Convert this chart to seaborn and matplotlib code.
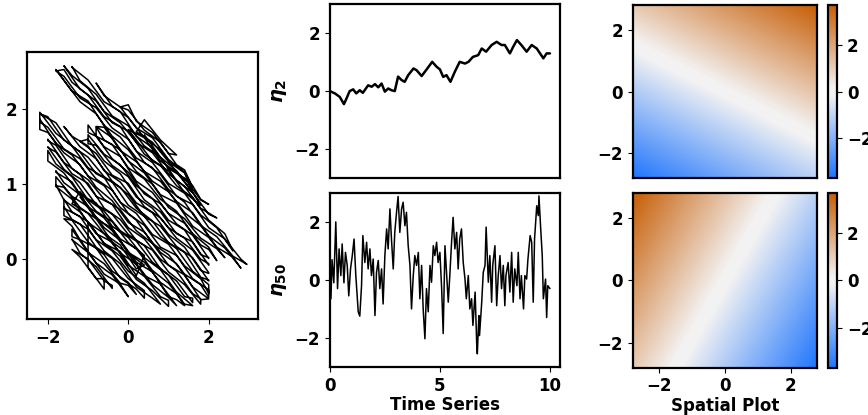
import numpy as np
import pandas as pd
import seaborn as sns
import matplotlib.pyplot as plt

# --- trajectory (left panel): hand-read strokes, (x, y), one row per sweep ---
traj_xy = [
    (-1.2, 0.83), (-0.8, 0.54), (-0.4, 0.41), (0.0, 0.08), (0.4, -0.08),
    (0.2, -0.13), (-0.2, 0.19), (-0.6, 0.34), (-1.0, 0.61), (-1.4, 0.74),
    (-1.2, 0.90), (-0.8, 0.64), (-0.4, 0.50), (0.0, 0.22), (0.4, 0.05),
    (0.2, -0.22), (-0.2, 0.10), (-0.6, 0.21), (-1.0, 0.50),
    (-1.0, -0.11), (-0.6, -0.40),
    (-0.6, -0.26), (-0.8, -0.26), (-1.2, 0.03),
    (-1.4, 0.13), (-1.0, 0.00), (-0.6, -0.29), (-0.4, -0.35),
    (-0.4, -0.39), (-0.8, -0.10), (-1.2, 0.08), (-1.4, 0.27),
    (-1.4, 0.26), (-1.0, 0.09), (-0.6, -0.20), (-0.2, -0.33),
    (0.0, -0.50), (-0.4, -0.21), (-0.8, -0.05), (-1.2, 0.26), (-1.4, 0.30),
    (-1.4, 0.40), (-1.0, 0.09), (-0.6, -0.06), (-0.2, -0.32), (0.0, -0.35),
    (0.2, -0.47), (0.0, -0.31), (-0.4, -0.16), (-0.8, 0.15), (-1.2, 0.26), (-1.4, 0.44),
    (-1.6, 0.54), (-1.4, 0.52), (-1.0, 0.23), (-0.6, 0.06), (-0.2, -0.25), (0.2, -0.40), (0.4, -0.52),
    (0.4, -0.42), (0.0, -0.26), (-0.4, 0.01), (-0.8, 0.16), (-1.2, 0.47), (-1.6, 0.58),
    (-1.6, 0.70), (-1.4, 0.53), (-1.0, 0.40), (-0.6, 0.11), (-0.2, -0.06), (0.2, -0.37), (0.6, -0.52),
    (0.8, -0.60), (0.4, -0.32), (0.0, -0.16), (-0.4, 0.11), (-0.8, 0.26), (-1.2, 0.57), (-1.6, 0.68),
    (-1.6, 0.80), (-1.4, 0.63), (-1.0, 0.50), (-0.6, 0.21), (-0.2, 0.04), (0.2, -0.27), (0.6, -0.42), (1.0, -0.63),
    (1.0, -0.55), (0.8, -0.50), (0.4, -0.23), (0.0, -0.08), (-0.4, 0.23), (-0.8, 0.34), (-1.2, 0.63), (-1.6, 0.79), (-1.8, 0.99),
    (-1.8, 0.97), (-1.4, 0.80), (-1.0, 0.49), (-0.6, 0.34), (-0.2, 0.08), (0.2, -0.06), (0.6, -0.34), (1.0, -0.51),
    (1.2, -0.62), (0.8, -0.33), (0.4, -0.22), (0.0, 0.07), (-0.4, 0.23), (-0.8, 0.54), (-1.2, 0.69), (-1.6, 0.96), (-1.8, 0.98),
    (-1.8, 1.10), (-1.4, 0.84), (-1.0, 0.70), (-0.6, 0.42), (-0.2, 0.25), (0.2, -0.04), (0.6, -0.17), (1.0, -0.50), (1.2, -0.54),
    (1.4, -0.62), (1.2, -0.46), (0.8, -0.31), (0.4, -0.04), (0.0, 0.09), (-0.4, 0.38), (-0.8, 0.56), (-1.2, 0.86), (-1.6, 1.02), (-1.8, 1.18),
    (-1.8, 1.16), (-1.4, 1.03), (-1.0, 0.70), (-0.6, 0.55), (-0.2, 0.27), (0.2, 0.14), (0.6, -0.15), (1.0, -0.32), (1.4, -0.60),
    (1.6, -0.62), (1.2, -0.44), (0.8, -0.14), (0.4, 0.02), (0.0, 0.29), (-0.4, 0.44), (-0.8, 0.75), (-1.2, 0.86), (-1.6, 1.15), (-2.0, 1.31),
    (-2.0, 1.45), (-1.8, 1.27), (-1.4, 1.10), (-1.0, 0.79), (-0.6, 0.64), (-0.2, 0.38), (0.2, 0.24), (0.6, -0.04), (1.0, -0.21), (1.4, -0.50), (1.6, -0.52),
    (1.6, -0.58), (1.2, -0.29), (0.8, -0.13), (0.4, 0.18), (0.0, 0.33), (-0.4, 0.60), (-0.8, 0.73), (-1.2, 1.02), (-1.6, 1.20), (-2.0, 1.50),
    (-2.0, 1.49), (-1.8, 1.43), (-1.4, 1.14), (-1.0, 1.01), (-0.6, 0.68), (-0.2, 0.53), (0.2, 0.25), (0.6, 0.12), (1.0, -0.17), (1.4, -0.34), (1.8, -0.60),
    (1.8, -0.53), (1.6, -0.46), (1.2, -0.16), (0.8, 0.00), (0.4, 0.27), (0.0, 0.42), (-0.4, 0.73), (-0.8, 0.84), (-1.2, 1.13), (-1.6, 1.29), (-2.0, 1.60),
    (-2.0, 1.58), (-1.8, 1.52), (-1.4, 1.21), (-1.0, 1.06), (-0.6, 0.80), (-0.2, 0.66), (0.2, 0.38), (0.6, 0.21), (1.0, -0.08), (1.4, -0.21), (1.8, -0.54),
    (2.0, -0.53), (1.6, -0.37), (1.2, -0.06), (0.8, 0.09), (0.4, 0.36), (0.0, 0.49), (-0.4, 0.78), (-0.8, 0.96), (-1.2, 1.26), (-1.6, 1.42), (-2.0, 1.69), (-2.2, 1.73),
    (-2.2, 1.87), (-1.8, 1.54), (-1.4, 1.39), (-1.0, 1.11), (-0.6, 0.98), (-0.2, 0.69), (0.2, 0.52), (0.6, 0.21), (1.0, 0.06), (1.4, -0.20), (1.8, -0.34), (2.0, -0.51),
    (2.0, -0.41), (1.6, -0.26), (1.2, 0.05), (0.8, 0.16), (0.4, 0.45), (0.0, 0.61), (-0.4, 0.92), (-0.8, 1.07), (-1.2, 1.34), (-1.6, 1.47), (-2.0, 1.76), (-2.2, 1.83),
    (-2.2, 1.96), (-1.8, 1.68), (-1.4, 1.51), (-1.0, 1.22), (-0.6, 1.09), (-0.2, 0.76), (0.2, 0.61), (0.6, 0.33), (1.0, 0.20), (1.4, -0.09), (1.8, -0.26), (2.0, -0.46),
    (2.0, -0.34), (1.6, -0.16), (1.2, 0.14), (0.8, 0.30), (0.4, 0.57), (0.0, 0.72), (-0.4, 1.03), (-0.8, 1.14), (-1.2, 1.43), (-1.6, 1.59), (-2.0, 1.90), (-2.2, 1.94),
    (-1.8, 1.82), (-1.4, 1.51), (-1.0, 1.36), (-0.6, 1.10), (-0.2, 0.96), (0.2, 0.68), (0.6, 0.51), (1.0, 0.22), (1.4, 0.09), (1.8, -0.24), (2.0, -0.28),
    (2.0, -0.29), (1.6, 0.02), (1.2, 0.17), (0.8, 0.44), (0.4, 0.57), (0.0, 0.86), (-0.4, 1.04), (-0.8, 1.34), (-1.2, 1.50), (-1.6, 1.77),
    (-1.4, 1.64), (-1.0, 1.51), (-0.6, 1.18), (-0.2, 1.03), (0.2, 0.75), (0.6, 0.62), (1.0, 0.33), (1.4, 0.16), (1.8, -0.15), (2.0, -0.19),
    (2.0, -0.18), (1.6, 0.12), (1.2, 0.28), (0.8, 0.55), (0.4, 0.70), (0.0, 1.01), (-0.4, 1.12), (-0.8, 1.41), (-1.2, 1.57),
    (-1.0, 1.60), (-0.6, 1.31), (-0.2, 1.14), (0.2, 0.83), (0.6, 0.68), (1.0, 0.42), (1.4, 0.28), (1.8, 0.00), (2.0, -0.06),
    (2.0, -0.08), (1.6, 0.23), (1.2, 0.34), (0.8, 0.63), (0.4, 0.79), (0.0, 1.10), (-0.4, 1.25), (-0.8, 1.52), (-1.0, 1.54),
    (-1.0, 1.66), (-0.6, 1.40), (-0.2, 1.26), (0.2, 0.98), (0.6, 0.81), (1.0, 0.52), (1.4, 0.39), (1.8, 0.06), (2.0, 0.02),
    (2.0, 0.01), (1.6, 0.32), (1.2, 0.47), (0.8, 0.74), (0.4, 0.87), (0.0, 1.16), (-0.4, 1.34), (-0.8, 1.64), (-1.0, 1.69),
    (-1.0, 1.79), (-0.6, 1.50), (-0.2, 1.37), (0.2, 1.04), (0.6, 0.89), (1.0, 0.61), (1.4, 0.48), (1.8, 0.19), (2.0, 0.13),
    (2.2, -0.02), (2.0, 0.16), (1.6, 0.34), (1.2, 0.64), (0.8, 0.80), (0.4, 1.07), (0.0, 1.22), (-0.4, 1.53), (-0.8, 1.64),
    (-0.8, 1.76), (-0.6, 1.59), (-0.2, 1.46), (0.2, 1.17), (0.6, 1.00), (1.0, 0.69), (1.4, 0.54), (1.8, 0.28), (2.2, 0.14),
    (2.4, 0.02), (2.0, 0.29), (1.6, 0.44), (1.2, 0.75), (0.8, 0.86), (0.4, 1.15), (0.0, 1.31), (-0.4, 1.62), (-0.8, 1.77),
    (-0.6, 1.76), (-0.2, 1.45), (0.2, 1.30), (0.6, 1.04), (1.0, 0.90), (1.4, 0.62), (1.8, 0.45), (2.2, 0.16), (2.6, 0.03),
    (2.8, -0.12), (2.4, 0.15), (2.0, 0.31), (1.6, 0.62), (1.2, 0.77), (0.8, 1.04), (0.4, 1.17), (0.0, 1.46), (-0.4, 1.64), (-0.8, 1.94), (-1.2, 2.10),
    (-1.8, 2.53), (-1.4, 2.24), (-1.0, 2.11), (-0.6, 1.78), (-0.2, 1.63), (0.2, 1.35), (0.6, 1.22), (1.0, 0.93), (1.4, 0.76), (1.8, 0.45), (2.2, 0.30), (2.6, 0.04), (2.95, -0.07),
    (2.8, 0.00), (2.4, 0.27), (2.0, 0.42), (1.6, 0.73), (1.2, 0.84), (0.8, 1.13), (0.4, 1.29), (0.0, 1.60), (-0.4, 1.75), (-0.8, 2.02), (-1.2, 2.15), (-1.6, 2.44), (-1.8, 2.51),
    (-1.6, 2.53), (-1.4, 2.36), (-1.0, 2.19), (-0.6, 1.90), (-0.2, 1.77), (0.2, 1.44), (0.6, 1.29), (1.0, 1.01), (1.4, 0.88), (1.8, 0.59), (2.2, 0.42), (2.6, 0.11),
    (2.4, 0.34), (2.0, 0.52), (1.6, 0.82), (1.2, 0.98), (0.8, 1.25), (0.4, 1.40), (0.0, 1.71), (-0.4, 1.82), (-0.8, 2.11), (-1.2, 2.27), (-1.6, 2.58),
    (-1.4, 2.45), (-1.0, 2.28), (-0.6, 1.97), (-0.2, 1.82), (0.2, 1.56), (0.6, 1.42), (1.0, 1.14), (1.4, 0.97), (1.8, 0.68), (2.2, 0.55),
    (2.0, 0.60), (1.6, 0.89), (1.2, 1.05), (0.8, 1.36), (0.4, 1.51), (0.0, 1.78), (-0.4, 1.91), (-0.8, 2.20), (-1.2, 2.38), (-1.4, 2.57),
    (-1.4, 2.56), (-1.0, 2.39), (-0.6, 2.10), (-0.2, 1.97), (0.2, 1.64), (0.6, 1.49), (1.0, 1.21), (1.4, 1.08), (1.8, 0.79), (2.0, 0.73),
    (1.8, 0.80), (1.6, 0.98), (1.2, 1.16), (0.8, 1.46), (0.4, 1.62), (0.0, 1.89), (-0.4, 2.04), (-0.8, 2.35),
    (-0.6, 2.18), (-0.2, 2.03), (0.2, 1.75), (0.6, 1.62), (1.0, 1.33), (1.4, 1.16), (1.6, 0.96),
    (1.4, 1.19), (1.2, 1.26), (0.8, 1.56), (0.4, 1.72), (0.0, 1.99), (-0.2, 2.03),
    (0.0, 2.06), (0.2, 1.84), (0.6, 1.69), (1.0, 1.41), (1.2, 1.39),
    (0.8, 1.59), (0.4, 1.86),
    (0.2, 1.70), (0.6, 1.56), (1.0, 1.30), (1.4, 1.15),
    (1.6, 0.89), (1.2, 1.16), (0.8, 1.31), (0.4, 1.62), (0.0, 1.73),
    (0.2, 1.59), (0.6, 1.31), (1.0, 1.18), (1.4, 0.89), (1.8, 0.72),
    (1.6, 0.89), (1.2, 1.18), (0.8, 1.36), (0.4, 1.66),
]

# --- time series (middle panels) ---
t_eta2 = [0.0, 0.23, 0.45, 0.64, 0.76, 0.9, 1.06, 1.2, 1.36, 1.5, 1.74, 1.9, 2.05, 2.2, 2.35, 2.5, 2.65,
          2.8, 2.95, 3.1, 3.26, 3.4, 3.56, 3.8, 3.94, 4.17, 4.4, 4.65, 4.85, 5.0, 5.15, 5.3, 5.48, 5.68,
          5.9, 6.14, 6.3, 6.5, 6.74, 6.9, 7.1, 7.35, 7.58, 7.8, 7.95, 8.18, 8.33, 8.5, 8.7, 8.94, 9.17,
          9.4, 9.55, 9.7, 9.85, 10.0]
eta2 = [0.0, -0.08, -0.2, -0.45, -0.25, 0.0, 0.06, -0.08, 0.03, -0.06, 0.2, 0.15, 0.24, 0.13, 0.26,
        -0.02, 0.09, 0.03, 0.0, 0.5, 0.38, 0.32, 0.55, 0.78, 0.72, 0.52, 0.75, 1.01, 0.84, 0.75, 0.49,
        0.55, 0.32, 0.67, 1.01, 0.95, 1.01, 1.18, 1.24, 1.47, 1.36, 1.59, 1.7, 1.59, 1.59, 1.3, 1.53,
        1.76, 1.59, 1.36, 1.59, 1.47, 1.3, 1.13, 1.3, 1.3]

t_eta50 = [0.0, 0.05, 0.1, 0.18, 0.27, 0.35, 0.42, 0.5, 0.56, 0.64, 0.71, 0.79, 0.86, 0.94, 1.02, 1.1,
           1.18, 1.29, 1.36, 1.44, 1.5, 1.59, 1.67, 1.74, 1.82, 1.89, 1.97, 2.05, 2.12, 2.2, 2.27, 2.35,
           2.42, 2.5, 2.58, 2.65, 2.73, 2.8, 2.88, 2.95, 3.03, 3.1, 3.18, 3.26, 3.33, 3.41, 3.48, 3.56,
           3.64, 3.71, 3.79, 3.86, 3.94, 4.02, 4.09, 4.17, 4.24, 4.32, 4.39, 4.47, 4.55, 4.62, 4.7,
           4.77, 4.85, 4.92, 5.0, 5.08, 5.15, 5.23, 5.3, 5.38, 5.45, 5.53, 5.6, 5.68, 5.76, 5.83, 5.9,
           5.98, 6.06, 6.14, 6.2, 6.29, 6.36, 6.44, 6.5, 6.6, 6.67, 6.7, 6.77, 6.8, 6.9, 6.97, 7.05,
           7.1, 7.2, 7.27, 7.35, 7.4, 7.5, 7.58, 7.65, 7.73, 7.8, 7.88, 7.95, 8.0, 8.1, 8.18, 8.26,
           8.33, 8.4, 8.5, 8.56, 8.64, 8.7, 8.8, 8.86, 8.94, 9.0, 9.1, 9.17, 9.24, 9.3, 9.4, 9.47,
           9.5, 9.58, 9.65, 9.7, 9.8, 9.85, 9.9, 10.0]
eta50 = [0.5, -0.65, 0.7, -0.1, 2.0, -0.3, 1.07, 0.15, 1.24, -0.1, 0.95, 0.5, -0.55, 0.38, 0.84, 1.41,
         0.15, -1.1, -1.25, -0.2, 1.53, 0.6, 1.3, 0.38, 1.07, 0.15, 0.72, -1.23, 0.26, 0.67, -0.3, 0.38,
         -0.83, 0.84, 1.76, 1.07, 2.45, 1.41, 0.38, 1.64, 2.33, 2.88, 1.64, 2.45, 2.68, 1.87, 2.33, 1.18,
         0.5, -1.0, 0.15, 0.84, 0.5, 0.95, -0.65, 0.5, -1.0, -2.03, -0.3, -1.1, 0.5, -0.08, 1.18,
         0.84, 1.3, 0.6, 0.95, -0.3, -1.85, 1.18, 0.26, -0.77, 0.15, 1.3, 2.16, 1.07, 1.64, 0.38, 1.41,
         1.76, 0.6, 0.03, -0.65, 0.15, -1.0, -0.65, -1.57, -0.42, -2.15, -2.55, -1.23, -1.92, -0.77, 0.26, 0.5,
         1.82, -0.08, 0.84, -0.77, 0.5, 1.18, -0.89, 0.15, 0.84, -0.3, 0.5, -0.89, 0.15, 0.6, -0.42, 0.95,
         -0.77, 0.38, -0.2, 0.95, -0.65, 0.15, -1.0, 0.15, 0.03, 0.72, 1.53, 1.3, -0.77, 1.41, 2.56, 2.22,
         2.9, 1.76, 0.84, -0.65, 0.03, -1.3, -0.2, -0.3]

# --- spatial fields (right panels): corner values, rows = y (low, high), cols = x (low, high) ---
corner_xy = [-2.8, 2.8]
field_top = [[-3.7, -1.1], [1.1, 3.7]]
field_bottom = [[1.1, -3.7], [3.7, -1.1]]

sns.set_style("ticks")
plt.rcParams['font.family'] = ['DejaVu Sans']
plt.rcParams.update({
    'font.weight': 'bold', 'font.size': 12, 'axes.labelweight': 'bold',
    'axes.linewidth': 1.6, 'axes.edgecolor': 'black', 'axes.labelcolor': 'black',
    'xtick.color': 'black', 'ytick.color': 'black', 'text.color': 'black',
    'mathtext.fontset': 'dejavusans',
})

cmap = sns.diverging_palette(258, 28, s=99, l=52, sep=12, as_cmap=True)

fig = plt.figure(figsize=(8.68, 4.15), dpi=100)
ax_traj = fig.add_axes([0.031, 0.231, 0.266, 0.643])
ax_t1 = fig.add_axes([0.380, 0.571, 0.265, 0.419])
ax_t2 = fig.add_axes([0.380, 0.116, 0.265, 0.419])
ax_h1 = fig.add_axes([0.729, 0.571, 0.212, 0.417])
ax_h2 = fig.add_axes([0.729, 0.114, 0.212, 0.421])
cax1 = fig.add_axes([0.954, 0.571, 0.0104, 0.417])
cax2 = fig.add_axes([0.954, 0.114, 0.0104, 0.421])

traj = pd.DataFrame(traj_xy, columns=['x', 'y'])
sns.lineplot(data=traj, x='x', y='y', sort=False, estimator=None, color='black', lw=1.1, ax=ax_traj)
ax_traj.set_xlim(-2.52, 3.22)
ax_traj.set_ylim(-0.8, 2.76)
ax_traj.set_xlabel('')
ax_traj.set_ylabel('')
ax_traj.set_xticks([-2, 0, 2])
ax_traj.set_yticks([0, 1, 2])

sns.lineplot(x=t_eta2, y=eta2, color='black', lw=1.8, ax=ax_t1)
ax_t1.set_xlim(0, 10.45)
ax_t1.set_ylim(-3, 3)
ax_t1.set_yticks([-2, 0, 2])
ax_t1.set_xticks([0, 5, 10])
ax_t1.set_xticklabels([])
ax_t1.tick_params(axis='x', length=0)
ax_t1.set_ylabel(r'$\eta_2$', fontsize=14)

sns.lineplot(x=t_eta50, y=eta50, color='black', lw=1.1, ax=ax_t2)
ax_t2.set_xlim(0, 10.45)
ax_t2.set_ylim(-3, 3)
ax_t2.set_yticks([-2, 0, 2])
ax_t2.set_xticks([0, 5, 10])
ax_t2.set_ylabel(r'$\eta_{50}$', fontsize=14)
ax_t2.set_xlabel('Time Series', labelpad=1)

# corner values sit at pixel centres, so the image extent is twice the axis range
half = corner_xy[1] * 2
for ax, cax, field in [(ax_h1, cax1, field_top), (ax_h2, cax2, field_bottom)]:
    im = ax.imshow(np.array(field), origin='lower', extent=[-half, half, -half, half], cmap=cmap,
                   vmin=-3.7, vmax=3.7, interpolation='bilinear', interpolation_stage='data', aspect='auto')
    ax.set_xlim(corner_xy)
    ax.set_ylim(corner_xy)
    ax.set_xticks([-2, 0, 2])
    ax.set_yticks([-2, 0, 2])
    cb = fig.colorbar(im, cax=cax, ticks=[-2, 0, 2])
    cb.outline.set_linewidth(1.6)
ax_h1.set_xticklabels([])
ax_h1.tick_params(axis='x', length=0)
ax_h2.set_xlabel('Spatial Plot', labelpad=1)

fig.savefig('out.png', dpi=100)
